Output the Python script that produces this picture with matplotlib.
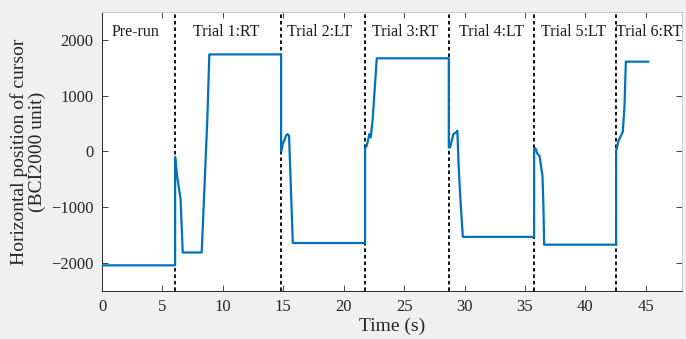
import matplotlib
matplotlib.use("Agg")
import matplotlib.pyplot as plt

# Data
t = [0.0, 6.05, 6.05, 6.23, 6.5, 6.68, 8.25, 8.72, 8.88, 14.82,
     14.82, 14.96, 15.23, 15.34, 15.48, 15.79, 21.77,
     21.77, 21.91, 22.13, 22.24, 22.4, 22.74, 28.7,
     28.7, 28.81, 29.08, 29.3, 29.41, 29.5, 29.64, 29.86, 35.76,
     35.76, 35.87, 36.04, 36.2, 36.45, 36.53, 36.59, 42.55,
     42.55, 42.74, 43.1, 43.24, 43.35, 45.2]
pos = [-2040, -2040, -100, -460, -850, -1810, -1810, 600, 1740, 1740,
       0, 134, 282, 312, 282, -1640, -1640,
       57, 104, 312, 253, 580, 1670, 1670,
       75, 75, 312, 342, 372, -193, -789, -1530, -1530,
       45, 57, -45, -75, -432, -968, -1670, -1670,
       15, 193, 354, 818, 1610, 1610]
boundaries = [6.05, 14.82, 21.8, 28.72, 35.78, 42.57]
labels = ["Pre-run", "Trial 1:RT", "Trial 2:LT", "Trial 3:RT", "Trial 4:LT", "Trial 5:LT", "Trial 6:RT"]
label_x = [2.8, 10.25, 18.0, 25.1, 32.2, 39.05, 45.3]
xticks = [0, 5, 10, 15, 20, 25, 30, 35, 40, 45]
yticks = [-2000, -1000, 0, 1000, 2000]

plt.rcParams['font.family'] = ['Liberation Serif', 'DejaVu Serif']

fig = plt.figure(figsize=(6.86, 3.39), dpi=100, facecolor='#f0f0f0')
ax = fig.add_axes([0.1487, 0.1416, 0.8455, 0.823])
ax.set_facecolor('white')

ax.plot(t, pos, color='#0072BD', lw=1.6, zorder=3)
for b in boundaries:
    ax.axvline(b, color='black', lw=1.3, linestyle=(0, (2, 1.6)), zorder=2)
for lx, lab in zip(label_x, labels):
    ax.text(lx, 2150, lab, ha='center', va='center', fontsize=11.5, color='#1a1a1a')

ax.set_xlim(0, 48)
ax.set_ylim(-2500, 2500)
ax.set_xticks(xticks)
ax.set_yticks(yticks)
ax.tick_params(direction='in', length=4, width=0.6, top=True, right=True,
               labelsize=12, colors='#262626', pad=6)
for s in ax.spines.values():
    s.set_linewidth(0.7)
    s.set_color('#262626')
ax.spines['top'].set_color('#c8c8c8')
ax.spines['right'].set_color('#c8c8c8')

ax.set_xlabel('Time (s)', fontsize=14, color='#262626', labelpad=2)
ax.set_ylabel('Horizontal position of cursor\n(BCI2000 unit)', fontsize=14,
              color='#262626', linespacing=1.0, labelpad=4)

fig.savefig('out.png', dpi=100, facecolor=fig.get_facecolor())
